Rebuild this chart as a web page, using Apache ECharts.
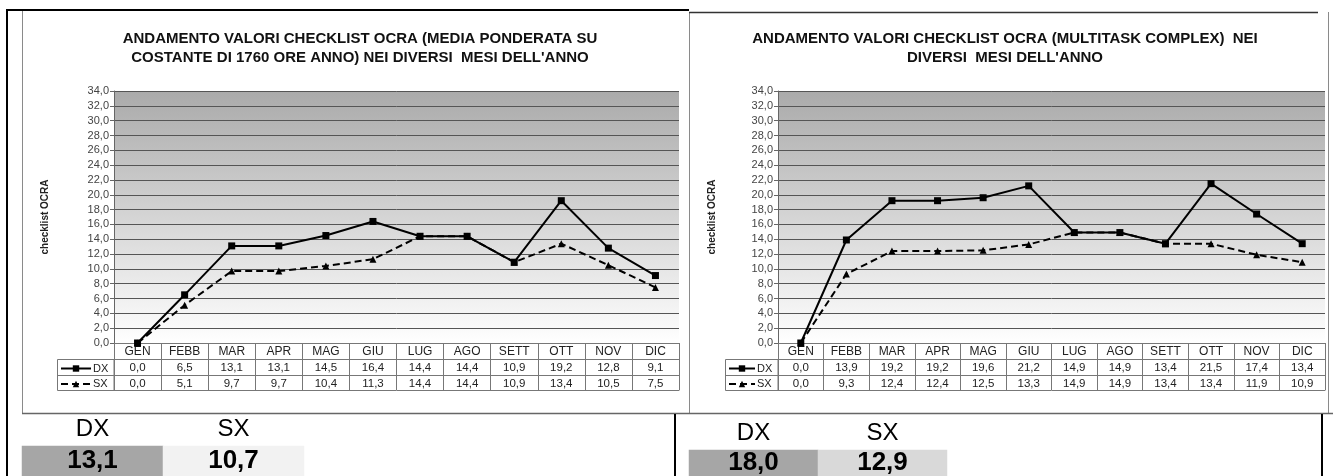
<!DOCTYPE html>
<html>
<head>
<meta charset="utf-8">
<script src="https://cdn.jsdelivr.net/npm/echarts@6/dist/echarts.min.js"></script>
<style>
  html, body { margin: 0; padding: 0; background: #fff; }
  #chart { width: 1333px; height: 476px; }
</style>
</head>
<body>
<div id="chart"></div>
<script>
// mesi dell'anno (intestazione tabella)
const months = ['GEN', 'FEBB', 'MAR', 'APR', 'MAG', 'GIU', 'LUG', 'AGO', 'SETT', 'OTT', 'NOV', 'DIC'];

// grafico sinistro: media ponderata su costante di 1760 ore anno
const dxMedia = [0.0, 6.5, 13.1, 13.1, 14.5, 16.4, 14.4, 14.4, 10.9, 19.2, 12.8, 9.1];
const sxMedia = [0.0, 5.1, 9.7, 9.7, 10.4, 11.3, 14.4, 14.4, 10.9, 13.4, 10.5, 7.5];

// grafico destro: multitask complex
const dxMulti = [0.0, 13.9, 19.2, 19.2, 19.6, 21.2, 14.9, 14.9, 13.4, 21.5, 17.4, 13.4];
const sxMulti = [0.0, 9.3, 12.4, 12.4, 12.5, 13.3, 14.9, 14.9, 13.4, 13.4, 11.9, 10.9];

// riepilogo sotto i grafici
const summaryLabels = ['DX', 'SX'];
const summaryMedia = [13.1, 10.7];
const summaryMulti = [18.0, 12.9];

const titleMedia = "ANDAMENTO VALORI CHECKLIST OCRA (MEDIA PONDERATA SU\nCOSTANTE DI 1760 ORE ANNO) NEI DIVERSI  MESI DELL'ANNO";
const titleMulti = "ANDAMENTO VALORI CHECKLIST OCRA (MULTITASK COMPLEX)  NEI\nDIVERSI  MESI DELL'ANNO";

const FONT = 'Liberation Sans';
const fmt = v => v.toFixed(1).replace('.', ',');

const chart = echarts.init(document.getElementById('chart'));

function plotBg() {
    return new echarts.graphic.LinearGradient(0, 0, 0, 1, [
        { offset: 0, color: '#aaaaaa' },
        { offset: 1, color: '#ffffff' }
    ]);
}

// asse categorie + righe della tabella dati (usa gli assi x con offset)
function tableAxes(gridIndex, dx, sx) {
    const line = { lineStyle: { color: '#777', width: 1 } };
    const base = {
        type: 'category', gridIndex: gridIndex, data: months, position: 'bottom',
        boundaryGap: true, axisLine: Object.assign({ show: true }, line)
    };
    const lbl = { interval: 0, margin: 3, fontSize: 11.5, color: '#222', fontFamily: FONT };
    return [
        Object.assign({}, base, {
            axisTick: Object.assign({ show: true, length: 16, interval: 0 }, line),
            axisLabel: Object.assign({}, lbl, { fontSize: 12 })
        }),
        Object.assign({}, base, {
            offset: 16,
            axisTick: Object.assign({ show: true, length: 16, interval: 0 }, line),
            axisLabel: Object.assign({}, lbl, { formatter: (v, i) => fmt(dx[i]) })
        }),
        Object.assign({}, base, {
            offset: 32,
            axisTick: Object.assign({ show: true, length: 15, interval: 0 }, line),
            axisLabel: Object.assign({}, lbl, { formatter: (v, i) => fmt(sx[i]) })
        }),
        Object.assign({}, base, {
            offset: 47, axisTick: { show: false }, axisLabel: { show: false }
        })
    ];
}

function valueAxis(gridIndex, nameGap) {
    return {
        type: 'value', gridIndex: gridIndex, min: 0, max: 34, interval: 2,
        name: 'checklist OCRA', nameLocation: 'middle', nameGap: nameGap,
        nameTextStyle: { fontSize: 10, fontWeight: 'bold', color: '#222', fontFamily: FONT },
        axisLine: { show: true, lineStyle: { color: '#666' } },
        axisTick: { show: true, length: 4, lineStyle: { color: '#666' } },
        splitLine: { show: true, lineStyle: { color: '#555', width: 1 } },
        axisLabel: { fontSize: 11, color: '#444', margin: 5, fontFamily: FONT, formatter: fmt }
    };
}

function lineSeries(name, data, xIdx, yIdx, dashed) {
    return {
        name: name, type: 'line', data: data, xAxisIndex: xIdx, yAxisIndex: yIdx,
        symbol: dashed ? 'triangle' : 'rect', symbolSize: 7, showSymbol: true,
        lineStyle: { color: '#000', width: 2, type: dashed ? [7, 4] : 'solid' },
        itemStyle: { color: '#000' }, z: dashed ? 3 : 4
    };
}

function tableLegend(name, left, top, width) {
    return {
        orient: 'vertical', left: left, top: top, padding: 0, itemWidth: width, itemHeight: 8,
        data: [name], textStyle: { fontSize: 11, color: '#222', padding: [0, 0, 0, -3], fontFamily: FONT }
    };
}

function summaryCells(values, colors) {
    return values.map((v, i) => ({ value: [i, 0, v], itemStyle: { color: colors[i] } }));
}

function summaryXAxis(gridIndex, margin) {
    return {
        type: 'category', gridIndex: gridIndex, data: summaryLabels, position: 'top',
        axisLine: { show: false }, axisTick: { show: false },
        axisLabel: { fontSize: 24, color: '#000', margin: margin, fontFamily: FONT }
    };
}

const frame = { stroke: '#000', lineWidth: 2 };
const panel = { stroke: '#8a8a8a', lineWidth: 1 };
const legendBox = { stroke: '#777', lineWidth: 1, fill: 'none' };
const titleStyle = { fontSize: 15, fontWeight: 'bold', color: '#111', lineHeight: 19, fontFamily: FONT };

const option = {
    animation: false,
    backgroundColor: '#fff',
    textStyle: { fontFamily: FONT },
    title: [
        { text: titleMedia, left: 355, top: 24, textAlign: 'center', textStyle: titleStyle },
        { text: titleMulti, left: 1000, top: 24, textAlign: 'center', textStyle: titleStyle }
    ],
    legend: [
        tableLegend('DX', 60, 363, 30),
        tableLegend('SX', 60, 378.5, 30),
        tableLegend('DX', 728, 363, 26),
        tableLegend('SX', 728, 378.5, 26)
    ],
    grid: [
        { left: 114, top: 91, width: 565, height: 252, show: true, borderWidth: 0, backgroundColor: plotBg() },
        { left: 778, top: 91, width: 547, height: 252, show: true, borderWidth: 0, backgroundColor: plotBg() },
        { left: 22, top: 446, width: 282, height: 30 },
        { left: 689, top: 450, width: 258, height: 26 }
    ],
    xAxis: [].concat(
        tableAxes(0, dxMedia, sxMedia),
        tableAxes(1, dxMulti, sxMulti),
        [summaryXAxis(2, 5), summaryXAxis(3, 5)]
    ),
    yAxis: [
        valueAxis(0, 64),
        valueAxis(1, 61),
        { type: 'category', gridIndex: 2, data: ['v'], show: false },
        { type: 'category', gridIndex: 3, data: ['v'], show: false }
    ],
    series: [
        lineSeries('DX', dxMedia, 0, 0, false),
        lineSeries('SX', sxMedia, 0, 0, true),
        lineSeries('DX', dxMulti, 4, 1, false),
        lineSeries('SX', sxMulti, 4, 1, true),
        {
            type: 'heatmap', xAxisIndex: 8, yAxisIndex: 2,
            data: summaryCells(summaryMedia, ['#a6a6a6', '#f2f2f2']),
            label: { show: true, fontSize: 26, fontWeight: 'bold', color: '#000',
                formatter: p => fmt(p.value[2]) }
        },
        {
            type: 'heatmap', xAxisIndex: 9, yAxisIndex: 3,
            data: summaryCells(summaryMulti, ['#a6a6a6', '#d9d9d9']),
            label: { show: true, fontSize: 26, fontWeight: 'bold', color: '#000',
                formatter: p => fmt(p.value[2]) }
        }
    ],
    graphic: [
        // bordi dei pannelli
        { type: 'line', shape: { x1: 22.5, y1: 10, x2: 22.5, y2: 413 }, style: panel, silent: true },
        { type: 'line', shape: { x1: 689.5, y1: 12, x2: 689.5, y2: 413 }, style: panel, silent: true },
        { type: 'line', shape: { x1: 1328.5, y1: 12, x2: 1328.5, y2: 413 }, style: panel, silent: true },
        { type: 'line', shape: { x1: 689, y1: 12.5, x2: 1318, y2: 12.5 }, style: { stroke: '#333', lineWidth: 1.5 }, silent: true },
        { type: 'line', shape: { x1: 22, y1: 413.5, x2: 1333, y2: 413.5 }, style: { stroke: '#666', lineWidth: 1.5 }, silent: true },
        // cornice nera del foglio
        { type: 'line', shape: { x1: 7, y1: 10, x2: 689, y2: 10 }, style: frame, silent: true },
        { type: 'line', shape: { x1: 7, y1: 9, x2: 7, y2: 476 }, style: frame, silent: true },
        { type: 'line', shape: { x1: 675, y1: 414, x2: 675, y2: 476 }, style: frame, silent: true },
        { type: 'line', shape: { x1: 1322, y1: 414, x2: 1322, y2: 476 }, style: frame, silent: true },
        // colonna legenda della tabella
        { type: 'rect', shape: { x: 57.5, y: 359.5, width: 56.5, height: 31 }, style: legendBox, silent: true },
        { type: 'line', shape: { x1: 57.5, y1: 375.5, x2: 114, y2: 375.5 }, style: legendBox, silent: true },
        { type: 'rect', shape: { x: 725.5, y: 359.5, width: 52.5, height: 31 }, style: legendBox, silent: true },
        { type: 'line', shape: { x1: 725.5, y1: 375.5, x2: 778, y2: 375.5 }, style: legendBox, silent: true }
    ]
};

chart.setOption(option);
</script>
</body>
</html>
